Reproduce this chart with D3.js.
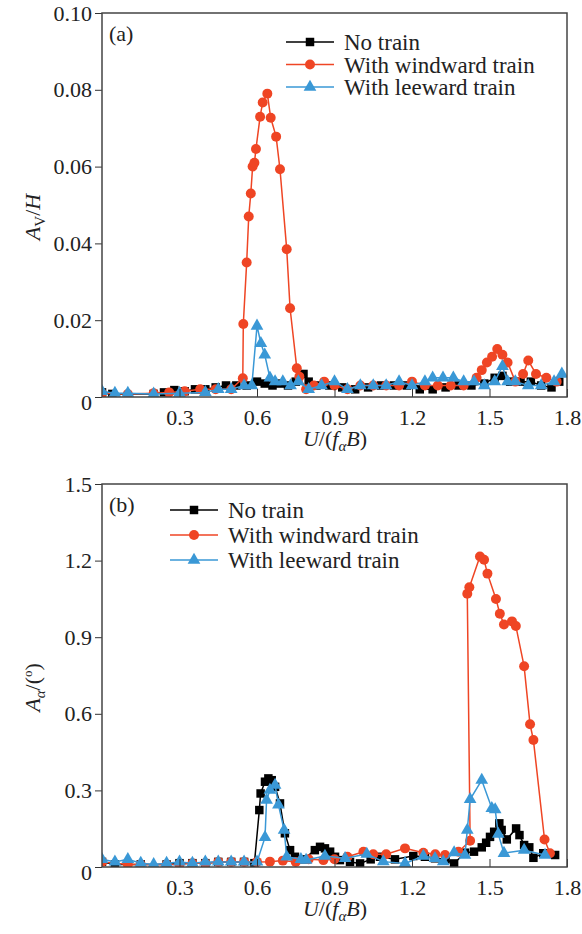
<!DOCTYPE html>
<html>
<head>
<meta charset="utf-8">
<script src="https://cdn.jsdelivr.net/npm/d3@7"></script>
<style>
  body { margin: 0; background: #fff; }
  svg, svg text { font-family: "Liberation Serif", "Times New Roman", serif; }
</style>
</head>
<body>
<div id="chart"></div>
<script>
// ---- data: [U/(f B), amplitude] ----
const xTicks = [0.3, 0.6, 0.9, 1.2, 1.5, 1.8];
const yTicksA = [0, 0.02, 0.04, 0.06, 0.08, 0.10];
const yTicksB = [0, 0.3, 0.6, 0.9, 1.2, 1.5];
const seriesNames = ["No train", "With windward train", "With leeward train"];

const aNoTrain = [[0.0,0.0012],[0.04,0.0008],[0.2,0.0008],[0.24,0.0012],[0.28,0.0018],[0.32,0.0015],[0.36,0.002],[0.4,0.002],[0.44,0.0025],[0.48,0.003],[0.52,0.003],[0.56,0.003],[0.6,0.004],[0.63,0.0035],[0.66,0.003],[0.69,0.0035],[0.72,0.003],[0.75,0.004],[0.78,0.006],[0.8,0.004],[0.83,0.003],[0.88,0.003],[0.93,0.0025],[0.98,0.002],[1.03,0.0025],[1.08,0.003],[1.13,0.003],[1.18,0.003],[1.23,0.002],[1.28,0.002],[1.33,0.0025],[1.38,0.003],[1.43,0.003],[1.48,0.0035],[1.52,0.005],[1.55,0.0055],[1.58,0.004],[1.62,0.004],[1.66,0.004],[1.7,0.003],[1.74,0.0025],[1.77,0.004]];
const aWindward = [[0.0,0.001],[0.1,0.0008],[0.2,0.001],[0.26,0.0012],[0.32,0.0015],[0.38,0.002],[0.44,0.002],[0.5,0.002],[0.545,0.0049],[0.547,0.019],[0.56,0.035],[0.568,0.047],[0.576,0.053],[0.583,0.060],[0.59,0.061],[0.596,0.0646],[0.612,0.073],[0.622,0.0767],[0.64,0.079],[0.653,0.0727],[0.674,0.0678],[0.689,0.0593],[0.715,0.0385],[0.728,0.0231],[0.754,0.0075],[0.764,0.0053],[0.79,0.002],[0.82,0.003],[0.86,0.004],[0.9,0.003],[0.95,0.002],[1.0,0.003],[1.05,0.003],[1.1,0.003],[1.15,0.003],[1.2,0.004],[1.25,0.003],[1.3,0.003],[1.35,0.003],[1.4,0.003],[1.45,0.005],[1.47,0.007],[1.49,0.009],[1.51,0.0105],[1.53,0.0125],[1.55,0.011],[1.57,0.009],[1.6,0.004],[1.63,0.006],[1.65,0.0095],[1.68,0.006],[1.72,0.005],[1.76,0.004]];
const aLeeward = [[0.0,0.0015],[0.05,0.001],[0.1,0.001],[0.2,0.0008],[0.3,0.001],[0.4,0.0012],[0.45,0.002],[0.5,0.002],[0.55,0.003],[0.58,0.003],[0.6,0.0185],[0.615,0.014],[0.63,0.011],[0.65,0.005],[0.67,0.004],[0.7,0.004],[0.73,0.003],[0.76,0.004],[0.8,0.002],[0.85,0.003],[0.9,0.004],[0.95,0.002],[1.0,0.003],[1.05,0.003],[1.1,0.003],[1.15,0.004],[1.2,0.003],[1.25,0.004],[1.28,0.005],[1.32,0.005],[1.36,0.005],[1.4,0.004],[1.44,0.004],[1.48,0.003],[1.52,0.004],[1.55,0.008],[1.57,0.004],[1.6,0.004],[1.65,0.003],[1.7,0.003],[1.75,0.004],[1.78,0.006]];

const bNoTrain = [[0.0,0.02],[0.05,0.01],[0.15,0.01],[0.25,0.01],[0.3,0.015],[0.35,0.015],[0.4,0.015],[0.45,0.02],[0.5,0.02],[0.55,0.02],[0.59,0.015],[0.609,0.223],[0.614,0.288],[0.631,0.334],[0.644,0.347],[0.657,0.34],[0.67,0.314],[0.689,0.249],[0.708,0.132],[0.728,0.066],[0.747,0.04],[0.78,0.03],[0.824,0.066],[0.844,0.079],[0.863,0.073],[0.883,0.06],[0.902,0.04],[0.921,0.027],[0.96,0.02],[0.999,0.014],[1.04,0.03],[1.076,0.04],[1.134,0.03],[1.205,0.043],[1.25,0.04],[1.289,0.034],[1.33,0.03],[1.363,0.014],[1.405,0.056],[1.44,0.06],[1.47,0.077],[1.487,0.095],[1.502,0.118],[1.518,0.138],[1.538,0.171],[1.547,0.145],[1.567,0.108],[1.603,0.151],[1.616,0.125],[1.634,0.086],[1.654,0.077],[1.67,0.036],[1.708,0.054],[1.754,0.047]];
const bWindward = [[0.0,0.02],[0.1,0.01],[0.15,0.01],[0.25,0.01],[0.3,0.01],[0.35,0.015],[0.4,0.015],[0.45,0.02],[0.5,0.02],[0.55,0.02],[0.6,0.02],[0.65,0.021],[0.7,0.025],[0.75,0.02],[0.8,0.03],[0.857,0.027],[0.9,0.03],[0.95,0.04],[1.012,0.06],[1.05,0.05],[1.1,0.05],[1.173,0.073],[1.244,0.056],[1.29,0.05],[1.328,0.047],[1.38,0.06],[1.425,0.103],[1.414,1.07],[1.422,1.096],[1.463,1.216],[1.479,1.203],[1.492,1.149],[1.525,1.05],[1.54,0.992],[1.556,0.95],[1.587,0.962],[1.602,0.944],[1.634,0.786],[1.657,0.559],[1.67,0.497],[1.713,0.108],[1.734,0.054]];
const bLeeward = [[0.0,0.03],[0.05,0.02],[0.1,0.03],[0.15,0.015],[0.2,0.01],[0.25,0.015],[0.3,0.02],[0.35,0.015],[0.4,0.02],[0.45,0.02],[0.5,0.02],[0.55,0.02],[0.6,0.02],[0.631,0.116],[0.637,0.262],[0.65,0.301],[0.67,0.321],[0.683,0.243],[0.705,0.145],[0.715,0.04],[0.77,0.03],[0.79,0.027],[0.863,0.043],[0.941,0.034],[1.025,0.051],[1.089,0.021],[1.173,0.014],[1.244,0.043],[1.289,0.034],[1.321,0.021],[1.363,0.056],[1.405,0.047],[1.414,0.145],[1.425,0.265],[1.47,0.34],[1.509,0.23],[1.522,0.225],[1.534,0.129],[1.556,0.054],[1.634,0.066],[1.715,0.047]];

const colors = ["#000000", "#ef4524", "#3a98d6"];
const symbols = [d3.symbolSquare, d3.symbolCircle, d3.symbolTriangle];
const symSizes = [72, 78, 70];
const serif = '"Liberation Serif", "Times New Roman", serif';

const svg = d3.select("#chart").append("svg")
  .attr("width", 582)
  .attr("height", 934);

function drawPanel(cfg) {
  const x = d3.scaleLinear().domain([0, 1.8]).range([102, 567]);
  const y = d3.scaleLinear().domain(cfg.yDomain).range([cfg.bottom, cfg.top]);
  const g = svg.append("g");

  g.append("clipPath").attr("id", cfg.id + "-clip")
    .append("rect")
    .attr("x", x.range()[0]).attr("y", cfg.top)
    .attr("width", x.range()[1] - x.range()[0])
    .attr("height", cfg.bottom - cfg.top);

  // series: black, red, blue
  const line = d3.line().x(d => x(d[0])).y(d => y(d[1]));
  const plot = g.append("g").attr("clip-path", `url(#${cfg.id}-clip)`);
  cfg.series.forEach((s, i) => {
    plot.append("path")
      .datum(s)
      .attr("fill", "none")
      .attr("stroke", colors[i])
      .attr("stroke-width", 1.5)
      .attr("d", line);
    plot.selectAll(".m" + i)
      .data(s)
      .join("path")
        .attr("class", "m" + i)
        .attr("transform", d => `translate(${x(d[0])},${y(d[1])})`)
        .attr("d", d3.symbol(symbols[i], symSizes[i]))
        .attr("fill", colors[i]);
  });

  // x axis (ticks inside)
  const xAxis = g.append("g")
    .attr("transform", `translate(0,${cfg.bottom})`)
    .call(d3.axisBottom(x).tickValues(xTicks).tickSize(-8).tickPadding(12)
      .tickFormat(d3.format(".1f")));
  xAxis.style("font-family", serif);
  xAxis.select(".domain").remove();
  xAxis.selectAll("line").attr("stroke", "#333");
  xAxis.selectAll("text").attr("font-size", 22).attr("fill", "#222")
    .style("font-family", serif);

  // y axis (ticks outside)
  const yAxis = g.append("g")
    .attr("transform", `translate(${x.range()[0]},0)`)
    .call(d3.axisLeft(y).tickValues(cfg.yTicks).tickSize(7).tickPadding(3)
      .tickFormat(cfg.yFormat));
  yAxis.style("font-family", serif);
  yAxis.select(".domain").remove();
  yAxis.selectAll("line").attr("stroke", "#333");
  yAxis.selectAll("text").attr("font-size", 22).attr("fill", "#222")
    .style("font-family", serif);
  yAxis.selectAll(".tick").filter(d => d === 0).select("text").attr("dy", "0.55em");

  // frame
  g.append("rect")
    .attr("x", x.range()[0]).attr("y", cfg.top)
    .attr("width", x.range()[1] - x.range()[0])
    .attr("height", cfg.bottom - cfg.top)
    .attr("fill", "none").attr("stroke", "#444").attr("stroke-width", 1.5);

  // panel label
  g.append("text")
    .attr("x", 109).attr("y", cfg.top + 28)
    .attr("font-size", 22).attr("fill", "#222")
    .text(cfg.label);

  // legend
  const leg = g.append("g");
  seriesNames.forEach((name, i) => {
    const ly = cfg.legY + i * cfg.legStep;
    leg.append("line")
      .attr("x1", cfg.legX).attr("x2", cfg.legX + 48)
      .attr("y1", ly).attr("y2", ly)
      .attr("stroke", colors[i]).attr("stroke-width", 1.5);
    leg.append("path")
      .attr("transform", `translate(${cfg.legX + 24},${ly})`)
      .attr("d", d3.symbol(symbols[i], symSizes[i]))
      .attr("fill", colors[i]);
    leg.append("text")
      .attr("x", cfg.legX + 58).attr("y", ly + 8)
      .attr("font-size", 23).attr("fill", "#222")
      .text(name);
  });

  // x label U/(f_alpha B)
  const xl = g.append("text")
    .attr("x", 335).attr("y", cfg.bottom + 49)
    .attr("text-anchor", "middle")
    .attr("font-size", 22).attr("fill", "#222");
  xl.append("tspan").attr("font-style", "italic").text("U");
  xl.append("tspan").text("/(");
  xl.append("tspan").attr("font-style", "italic").text("f");
  xl.append("tspan").attr("font-style", "italic").attr("font-size", 15).attr("dy", 5).text("α");
  xl.append("tspan").attr("font-style", "italic").attr("dy", -5).text("B");
  xl.append("tspan").text(")");

  // y label
  const yl = g.append("text")
    .attr("transform", `translate(40,${(cfg.top + cfg.bottom) / 2 + 12}) rotate(-90)`)
    .attr("text-anchor", "middle")
    .attr("font-size", 22).attr("fill", "#222");
  cfg.yLabel(yl);
}

drawPanel({
  id: "pa", top: 13, bottom: 397, yDomain: [0, 0.1], yTicks: yTicksA,
  yFormat: d => d === 0 ? "0" : d3.format(".2f")(d),
  series: [aNoTrain, aWindward, aLeeward], label: "(a)",
  legX: 286, legY: 42, legStep: 22.5,
  yLabel: t => {
    t.append("tspan").attr("font-style", "italic").text("A");
    t.append("tspan").attr("font-size", 15).attr("dy", 5).text("V");
    t.append("tspan").attr("dy", -5).text("/");
    t.append("tspan").attr("font-style", "italic").text("H");
  }
});

drawPanel({
  id: "pb", top: 484, bottom: 867, yDomain: [0, 1.5], yTicks: yTicksB,
  yFormat: d => d === 0 ? "0" : d3.format(".1f")(d),
  series: [bNoTrain, bWindward, bLeeward], label: "(b)",
  legX: 170, legY: 510, legStep: 25,
  yLabel: t => {
    t.append("tspan").attr("font-style", "italic").text("A");
    t.append("tspan").attr("font-style", "italic").attr("font-size", 15).attr("dy", 5).text("α");
    t.append("tspan").attr("dy", -5).text("/(");
    t.append("tspan").attr("font-size", 13).attr("dy", -8).text("o");
    t.append("tspan").attr("dy", 8).text(")");
  }
});
</script>
</body>
</html>
